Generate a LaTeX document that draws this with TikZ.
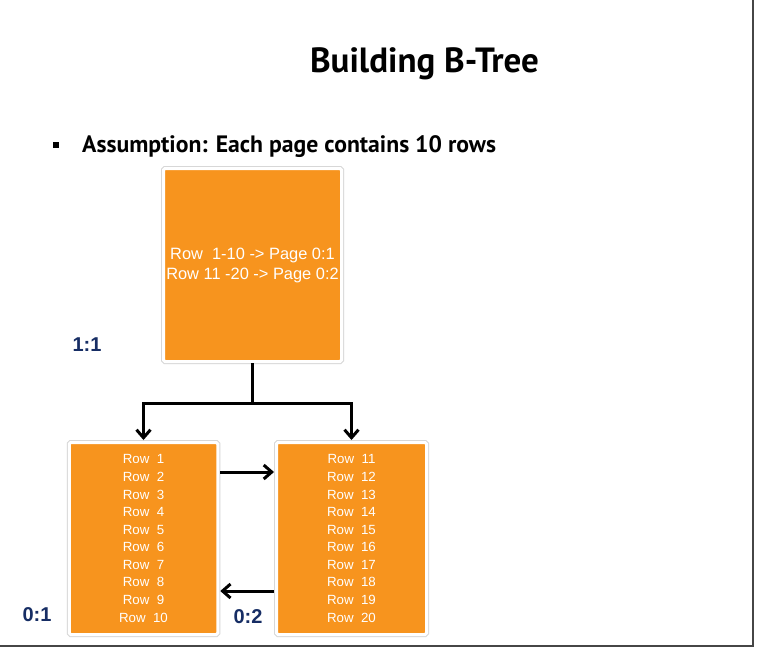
\documentclass[tikz,border=0pt]{standalone}
\usepackage{fontspec}
\setmainfont{Liberation Sans}
\newfontfamily\slidefont{PT Sans}
\usetikzlibrary{arrows.meta,positioning}
\definecolor{PageOrange}{RGB}{247,148,30}
\definecolor{Navy}{RGB}{22,45,100}
\definecolor{FrameGray}{RGB}{215,215,215}
\definecolor{EdgeGray}{RGB}{70,70,70}
\tikzset{
  page/.style={fill=PageOrange,draw=white,line width=3pt,preaction={draw=FrameGray,line width=5pt},
    rounded corners=1.5pt,text=white,align=center,inner sep=0pt,outer sep=2.5pt},
  rowtext/.style={font=\fontsize{13.3}{17.56}\selectfont},
  pageid/.style={font=\fontsize{20}{20}\selectfont\bfseries,text=Navy},
  treeline/.style={line width=3pt,line cap=rect},
  treearrow/.style={-{Straight Barb[length=8pt,width=14pt]},line width=3pt}
}
\begin{document}
\begin{tikzpicture}[x=1pt,y=-1pt]
\useasboundingbox (0,0) rectangle (757,650);
\fill[white] (0,0) rectangle (753,646);
\draw[EdgeGray,line width=2.2pt] (0,646) -- (753,646) -- (753,0);

% heading and bullet
\node[font=\slidefont\fontsize{35}{40}\selectfont\bfseries,anchor=base] (title) at (424.5,73) {Building B-Tree};
\fill (53,142) rectangle (59,148);
\node[font=\slidefont\fontsize{23.7}{28}\selectfont\bfseries,anchor=base west,inner sep=0pt] (assume) at (82,152) {Assumption: Each page contains 10 rows};

% pages
\node[page,minimum width=178,minimum height=193,font=\fontsize{16.4}{20}\selectfont] (root) at (252.5,265)
  {Row\ \ 1-10 -> Page 0:1\\Row 11 -20 -> Page 0:2};
\node[page,rowtext,minimum width=148.5,minimum height=192] (p01) at (143.5,538.5)
  {Row\ \ 1\\Row\ \ 2\\Row\ \ 3\\Row\ \ 4\\Row\ \ 5\\Row\ \ 6\\Row\ \ 7\\Row\ \ 8\\Row\ \ 9\\Row\ \ 10};
\node[page,rowtext,minimum width=150,minimum height=192] (p02) at (351.5,538.5)
  {Row\ \ 11\\Row\ \ 12\\Row\ \ 13\\Row\ \ 14\\Row\ \ 15\\Row\ \ 16\\Row\ \ 17\\Row\ \ 18\\Row\ \ 19\\Row\ \ 20};

\node[pageid] (id11) at (87,345) {1:1};
\node[pageid] (id01) at (37,615) {0:1};
\node[pageid] (id02) at (248,617) {0:2};

% links
\coordinate (fork) at (252.5,403);
\draw[treeline] (root.south) -- (fork);
\draw[treearrow] (fork) -| (p01.north);
\draw[treearrow] (fork) -| (p02.north);
\draw[treearrow] (p01.east |- 0,472) -- (p02.west |- 0,472);
\draw[treearrow] (p02.west |- 0,591) -- (p01.east |- 0,591);
\end{tikzpicture}
\end{document}
